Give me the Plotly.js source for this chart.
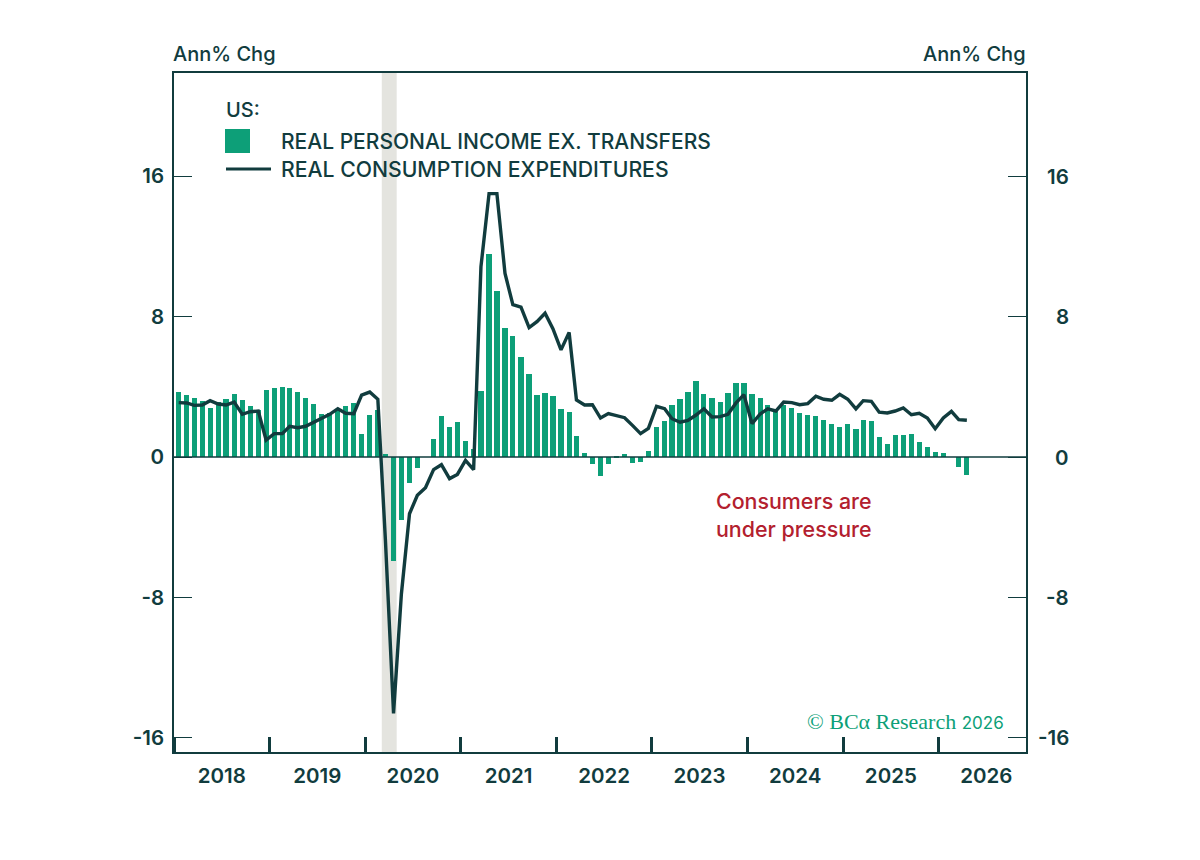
<!DOCTYPE html>
<html>
<head>
<meta charset="utf-8">
<script src="https://cdn.plot.ly/plotly-3.0.1.min.js"></script>
<style>html,body{margin:0;padding:0;background:#fff}</style>
</head>
<body>
<div id="chart" style="width:1200px;height:860px"></div>
<script>
const firstYear = 2018;
const incomeExTransfers = [
  3.68,3.51,3.36,3.19,2.79,3.13,3.32,3.57,3.23,2.91,2.70,3.80,
  3.93,4.00,3.91,3.68,3.36,3.04,2.45,2.50,2.70,2.89,3.08,1.33,
  2.37,2.66,0.20,-5.90,-3.57,-1.46,-0.60,0.00,1.00,2.32,1.69,1.98,
  0.93,0.47,3.76,11.55,9.48,7.37,6.91,5.70,4.71,3.55,3.63,3.46,
  2.72,2.56,1.18,0.25,-0.38,-1.08,-0.38,0.08,0.17,-0.34,-0.27,0.32,
  1.70,2.07,2.98,3.29,3.72,4.31,3.57,3.34,3.11,3.67,4.24,4.24,
  3.57,3.34,2.94,2.75,2.98,2.79,2.49,2.39,2.32,2.13,1.90,1.69,
  1.88,1.61,2.11,2.03,1.12,0.76,1.23,1.23,1.33,0.87,0.55,0.27,
  0.21,0.00,-0.59,-1.04
];
const realConsumption = [
  3.10,3.08,2.94,2.96,3.21,3.02,2.96,3.13,2.43,2.58,2.62,0.97,
  1.33,1.33,1.75,1.67,1.75,1.99,2.24,2.43,2.75,2.49,2.47,3.53,
  3.70,3.29,-4.75,-14.60,-7.80,-3.23,-2.18,-1.75,-0.72,-0.44,-1.23,-0.99,
  -0.19,-0.72,10.83,15.00,15.00,10.45,8.68,8.53,7.37,7.71,8.19,7.31,
  6.10,7.10,3.25,2.96,2.98,2.22,2.47,2.34,2.24,1.80,1.33,1.63,
  2.89,2.75,2.18,1.98,2.09,2.39,2.75,2.28,2.30,2.43,3.08,3.55,
  1.90,2.45,2.74,2.62,3.13,3.10,2.98,3.04,3.46,3.29,3.23,3.57,
  3.29,2.74,3.21,3.17,2.55,2.51,2.62,2.79,2.41,2.49,2.22,1.61,
  2.22,2.60,2.13,2.09
];
const yTickValues = [-16,-8,0,8,16];
const yTickLabels = ['-16','-8','0','8','16'];
const incomeName = 'REAL PERSONAL INCOME EX. TRANSFERS';
const consumptionName = 'REAL CONSUMPTION EXPENDITURES';

const pad = n => String(n).padStart(2,'0');
const months = incomeExTransfers.map((_,i) =>
  `${firstYear+Math.floor(i/12)}-${pad(i%12+1)}-19`);

const DARK = '#113c3e', GREEN = '#0d9f78', RED = '#b3202e';
const FONT = 'Inter, "Open Sans", sans-serif';
const tf = {family:FONT,size:20.5,color:DARK,weight:600};

const traces = [
  {type:'bar',name:incomeName,x:months,y:incomeExTransfers,xaxis:'x',yaxis:'y',
   width:1.72e9,marker:{color:GREEN,line:{width:0}},showlegend:false,hoverinfo:'x+y'},
  {type:'scatter',mode:'lines',name:consumptionName,x:months,y:realConsumption,xaxis:'x',yaxis:'y2',
   line:{color:DARK,width:3.4,shape:'linear'},showlegend:false,hoverinfo:'x+y'}
];

const yRange = [-16.8,21.87];
const ann = (o) => Object.assign({showarrow:false,xref:'paper',yref:'paper',xanchor:'left',yanchor:'middle',font:tf},o);
const px = x => (x-174)/852, py = y => (752-y)/679;
const body = {family:FONT,size:21,color:DARK,weight:500};

const annotations = [
  ann({text:'Ann% Chg',x:px(171),y:py(54),font:{...body,size:20}}),
  ann({text:'Ann% Chg',x:px(1028),y:py(54),xanchor:'right',font:{...body,size:20}}),
  ann({text:'US:',x:px(224),y:py(110),font:{...body,size:20}}),
  ann({text:incomeName,x:px(279),y:py(141),font:body}),
  ann({text:consumptionName,x:px(279),y:py(169),font:{...body,size:21.2}}),
  ann({text:'Consumers are<br>under pressure',x:px(714),y:py(515),align:'left',font:{...body,size:21.4,color:RED}}),
  ann({text:'© BCα Research <span style="font-family:Inter;font-size:17px">2026</span>',x:px(1006),y:py(721),xanchor:'right',font:{family:'"Liberation Serif",serif',size:22,color:GREEN}})
];
yTickValues.forEach((v,i)=>annotations.push({
  text:yTickLabels[i],showarrow:false,xref:'paper',yref:'y2',x:px(1071),y:v,
  xanchor:'right',yanchor:'middle',font:tf
}));

const shapes = [
  {type:'rect',xref:'x',yref:'paper',x0:'2020-03-05',x1:'2020-05-01',y0:0,y1:1,
   fillcolor:'#e4e4df',line:{width:0},layer:'below'},
  {type:'line',xref:'paper',yref:'y',x0:0,x1:1,y0:0,y1:0,line:{color:DARK,width:1.6},layer:'above'},
  {type:'rect',xref:'paper',yref:'paper',x0:px(225),x1:px(250),y0:py(153),y1:py(129),
   fillcolor:GREEN,line:{width:0}},
  {type:'line',xref:'paper',yref:'paper',x0:px(226),x1:px(271),y0:py(169),y1:py(169),
   line:{color:DARK,width:3}}
];

const layout = {
  width:1200,height:860,
  margin:{l:174,r:174,t:73,b:108,pad:0},
  paper_bgcolor:'#ffffff',plot_bgcolor:'#ffffff',
  font:{family:FONT,color:DARK},
  bargap:0,barmode:'overlay',hovermode:'closest',
  xaxis:{type:'date',range:['2018-01-01','2026-12-01'],tick0:'2018-01-01',dtick:'M12',
    tickformat:'%Y',ticklabelmode:'period',ticks:'inside',ticklen:15,tickwidth:2.5,tickcolor:DARK,
    showgrid:false,zeroline:false,showline:true,linecolor:DARK,linewidth:1.6,mirror:true,
    tickfont:tf,ticklabelstandoff:5},
  yaxis:{range:yRange,tickmode:'array',tickvals:yTickValues,ticktext:yTickLabels,
    ticks:'inside',ticklen:18,tickwidth:1.4,tickcolor:DARK,showgrid:false,zeroline:false,
    showline:true,linecolor:DARK,linewidth:1.6,tickfont:tf,ticklabelstandoff:4},
  yaxis2:{range:yRange,overlaying:'y',side:'right',tickmode:'array',tickvals:yTickValues,
    ticktext:yTickLabels.map(()=>''),ticks:'inside',ticklen:18,tickwidth:1.4,tickcolor:DARK,
    showgrid:false,zeroline:false,showline:true,linecolor:DARK,linewidth:1.6},
  annotations,shapes
};
Plotly.newPlot('chart',traces,layout,{displayModeBar:false,responsive:false});
</script>
</body>
</html>
